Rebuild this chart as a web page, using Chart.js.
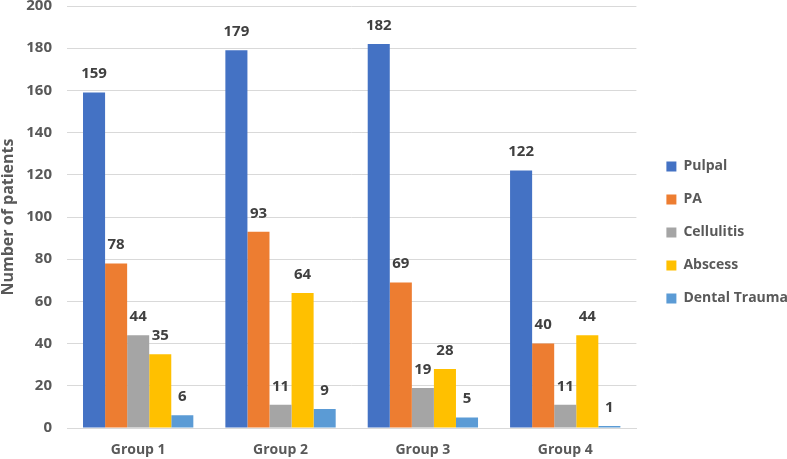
<!DOCTYPE html>
<html>
<head>
<meta charset="utf-8">
<script src="https://cdn.jsdelivr.net/npm/chart.js@4"></script>
<style>
  body { margin: 0; background: #fff; }
  #wrap { width: 787px; height: 459px; }
</style>
</head>
<body>
<div id="wrap"><canvas id="chart"></canvas></div>
<script>
// categories and series
const groups = ['Group 1', 'Group 2', 'Group 3', 'Group 4'];
const seriesNames = ['Pulpal', 'PA', 'Cellulitis', 'Abscess', 'Dental Trauma'];
const pulpal = [159, 179, 182, 122];
const pa = [78, 93, 69, 40];
const cellulitis = [44, 11, 19, 11];
const abscess = [35, 64, 28, 44];
const dentalTrauma = [6, 9, 5, 1];
const seriesColors = ['#4472C4', '#ED7D31', '#A5A5A5', '#FFC000', '#5B9BD5'];

const fontFam = '"Open Sans", "DejaVu Sans", sans-serif';

// draws value labels above each bar
const valueLabels = {
    id: 'valueLabels',
    afterDatasetsDraw(chart) {
        const c = chart.ctx;
        c.save();
        c.font = 'bold 15px ' + fontFam;
        c.fillStyle = '#404040';
        c.textAlign = 'center';
        c.textBaseline = 'bottom';
        chart.data.datasets.forEach((ds, i) => {
            chart.getDatasetMeta(i).data.forEach((bar, j) => {
                c.fillText(ds.data[j], bar.x, bar.y - 11);
            });
        });
        c.restore();
    }
};

// nudge the legend a bit away from the plot
const legendShift = {
    id: 'legendShift',
    afterLayout(chart) {
        if (chart.legend) {
            chart.legend.left += 11;
            chart.legend.right += 11;
        }
    }
};

const allData = [pulpal, pa, cellulitis, abscess, dentalTrauma];

new Chart(document.getElementById('chart'), {
    type: 'bar',
    data: {
        labels: groups,
        datasets: seriesNames.map((name, i) => ({
            label: name,
            data: allData[i],
            backgroundColor: seriesColors[i],
            borderWidth: 0
        }))
    },
    options: {
        responsive: true,
        maintainAspectRatio: false,
        animation: false,
        layout: { padding: { top: 6, left: 0, right: 0, bottom: 0 } },
        datasets: {
            bar: { barPercentage: 1, categoryPercentage: 0.775 }
        },
        scales: {
            x: {
                afterFit(scale) {
                    scale.height = 31;
                    scale.paddingBottom = 0;
                },
                grid: { display: false, drawTicks: false },
                border: { color: '#d9d9d9', width: 1 },
                ticks: {
                    color: '#595959',
                    padding: 15,
                    font: { family: fontFam, size: 14, weight: 'bold', lineHeight: 1 }
                }
            },
            y: {
                min: 0,
                max: 200,
                afterFit(scale) {
                    scale.width = 67;
                    scale.paddingTop = 0;
                    scale.paddingBottom = 0;
                },
                ticks: {
                    stepSize: 20,
                    color: '#595959',
                    padding: 15,
                    font: { family: fontFam, size: 15, weight: 'bold', lineHeight: 1 }
                },
                grid: { color: '#d9d9d9', drawTicks: false },
                border: { display: false },
                title: {
                    display: true,
                    text: 'Number of patients',
                    color: '#595959',
                    padding: 0,
                    font: { family: fontFam, size: 16, weight: 'bold', lineHeight: 1 }
                }
            }
        },
        plugins: {
            legend: {
                position: 'right',
                labels: {
                    boxWidth: 10,
                    boxHeight: 10,
                    padding: 19,
                    color: '#595959',
                    font: { family: fontFam, size: 14, weight: 'bold' }
                }
            },
            tooltip: { enabled: false }
        }
    },
    plugins: [valueLabels, legendShift]
});
</script>
</body>
</html>
